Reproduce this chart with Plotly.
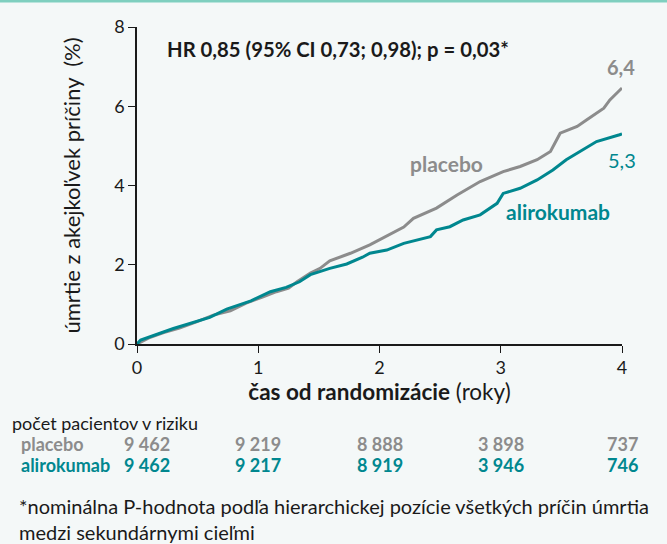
import plotly.graph_objects as go

# ---- data ----
placebo_t = [0.0, 0.11, 0.22, 0.35, 0.49, 0.63, 0.77, 0.90, 1.04, 1.15, 1.25, 1.32, 1.43, 1.51,
             1.59, 1.76, 1.92, 2.06, 2.20, 2.28, 2.47, 2.64, 2.83, 3.02, 3.16, 3.30, 3.41, 3.49,
             3.63, 3.71, 3.85, 3.90, 3.98, 4.0]
placebo_v = [0.0, 0.17, 0.29, 0.40, 0.56, 0.73, 0.84, 1.03, 1.19, 1.32, 1.41, 1.57, 1.79, 1.91,
             2.10, 2.29, 2.50, 2.73, 2.95, 3.17, 3.43, 3.76, 4.10, 4.35, 4.48, 4.65, 4.86, 5.32,
             5.49, 5.66, 5.95, 6.16, 6.40, 6.46]
ali_t = [0.0, 0.03, 0.30, 0.44, 0.60, 0.74, 0.94, 1.10, 1.23, 1.34, 1.43, 1.59, 1.73, 1.86,
         1.92, 2.06, 2.20, 2.42, 2.47, 2.58, 2.69, 2.83, 2.97, 3.02, 3.16, 3.30, 3.43, 3.54,
         3.68, 3.79, 3.98, 4.0]
ali_v = [0.0, 0.10, 0.39, 0.52, 0.67, 0.88, 1.09, 1.32, 1.43, 1.57, 1.75, 1.91, 2.02, 2.19,
         2.29, 2.37, 2.54, 2.71, 2.88, 2.96, 3.13, 3.26, 3.55, 3.80, 3.93, 4.14, 4.39, 4.65,
         4.90, 5.11, 5.28, 5.30]

risk_times = [0, 1, 2, 3, 4]
risk_placebo = ["9 462", "9 219", "8 888", "3 898", "737"]
risk_ali = ["9 462", "9 217", "8 919", "3 946", "746"]

GREY = "#8c8c8c"
TEAL = "#00878f"
FONT = "Lato"

L, R, T, B = 137, 45, 27, 200
W, H = 667, 544
PW, PH = W - L - R, H - T - B


def px(x):
    return (x - L) / PW


def py(y):
    return (H - B - y) / PH


fig = go.Figure()
fig.add_trace(go.Scatter(x=placebo_t, y=placebo_v, mode="lines",
                         line=dict(color=GREY, width=3), showlegend=False))
fig.add_trace(go.Scatter(x=ali_t, y=ali_v, mode="lines",
                         line=dict(color=TEAL, width=3), showlegend=False))

fig.update_layout(
    width=W, height=H,
    margin=dict(l=L, r=R, t=T, b=B),
    paper_bgcolor="#f4f8f8", plot_bgcolor="#f4f8f8",
    font=dict(family=FONT, size=18, color="#1a1a1a"),
    xaxis=dict(range=[0, 4], tickvals=[0, 1, 2, 3, 4], showgrid=False, zeroline=False,
               showline=True, linecolor="#1a1a1a", linewidth=1.5, ticks="outside",
               ticklen=7, tickcolor="#1a1a1a", tickfont=dict(size=18),
               title=dict(text="<b>čas od randomizácie</b> (roky)", font=dict(size=22.5), standoff=6)),
    yaxis=dict(range=[0, 8], tickvals=[0, 2, 4, 6, 8], showgrid=False, zeroline=False,
               showline=True, linecolor="#1a1a1a", linewidth=1.5, ticks="outside",
               ticklen=7, tickcolor="#1a1a1a", tickfont=dict(size=18),
               title=dict(text="úmrtie z akejkoľvek príčiny  (%)", font=dict(size=22), standoff=27)),
)

ann = []
ann.append(dict(x=px(165), y=py(49), xref="paper", yref="paper",
                text="<b>HR 0,85 (95% CI 0,73; 0,98); p = 0,03*</b>",
                showarrow=False, xanchor="left", yanchor="middle", font=dict(size=20.3, color="#1a1a1a")))
ann.append(dict(x=px(621), y=py(67), xref="paper", yref="paper", text="<b>6,4</b>", showarrow=False,
                xanchor="center", yanchor="middle", font=dict(size=20, color=GREY)))
ann.append(dict(x=px(622), y=py(160), xref="paper", yref="paper", text="5,3", showarrow=False,
                xanchor="center", yanchor="middle", font=dict(size=20, color=TEAL)))
ann.append(dict(x=px(446), y=py(163), xref="paper", yref="paper", text="<b>placebo</b>", showarrow=False,
                xanchor="center", yanchor="middle", font=dict(size=21, color=GREY)))
ann.append(dict(x=px(558), y=py(212), xref="paper", yref="paper", text="<b>alirokumab</b>", showarrow=False,
                xanchor="center", yanchor="middle", font=dict(size=21, color=TEAL)))

# risk table
ann.append(dict(x=px(10), y=py(423), xref="paper", yref="paper", text="počet pacientov v riziku",
                showarrow=False, xanchor="left", yanchor="middle", font=dict(size=18, color="#1a1a1a")))
ann.append(dict(x=px(19), y=py(444), xref="paper", yref="paper", text="<b>placebo</b>",
                showarrow=False, xanchor="left", yanchor="middle", font=dict(size=18, color=GREY)))
ann.append(dict(x=px(19), y=py(465), xref="paper", yref="paper", text="<b>alirokumab</b>",
                showarrow=False, xanchor="left", yanchor="middle", font=dict(size=18, color=TEAL)))
for i, t in enumerate(risk_times):
    xx = t / 4 + (0.02 if t == 0 else 0)
    ann.append(dict(x=xx, y=py(444), xref="paper", yref="paper", text="<b>" + risk_placebo[i] + "</b>",
                    showarrow=False, xanchor="center", yanchor="middle", font=dict(size=18, color=GREY)))
    ann.append(dict(x=xx, y=py(465), xref="paper", yref="paper", text="<b>" + risk_ali[i] + "</b>",
                    showarrow=False, xanchor="center", yanchor="middle", font=dict(size=18, color=TEAL)))

ann.append(dict(x=px(17), y=py(519), xref="paper", yref="paper",
                text="*nominálna P-hodnota podľa hierarchickej pozície všetkých príčin úmrtia<br>medzi sekundárnymi cieľmi",
                showarrow=False, xanchor="left", yanchor="middle", align="left",
                font=dict(size=20, color="#1a1a1a")))
fig.update_layout(annotations=ann)

fig.add_shape(type="line", xref="paper", yref="paper", x0=px(-5), x1=px(W + 5),
              y0=py(1), y1=py(1), line=dict(color="#7fcfbf", width=3))

fig.write_html("out.html", post_script="document.body.style.margin='0';",
               config={"displayModeBar": False})
